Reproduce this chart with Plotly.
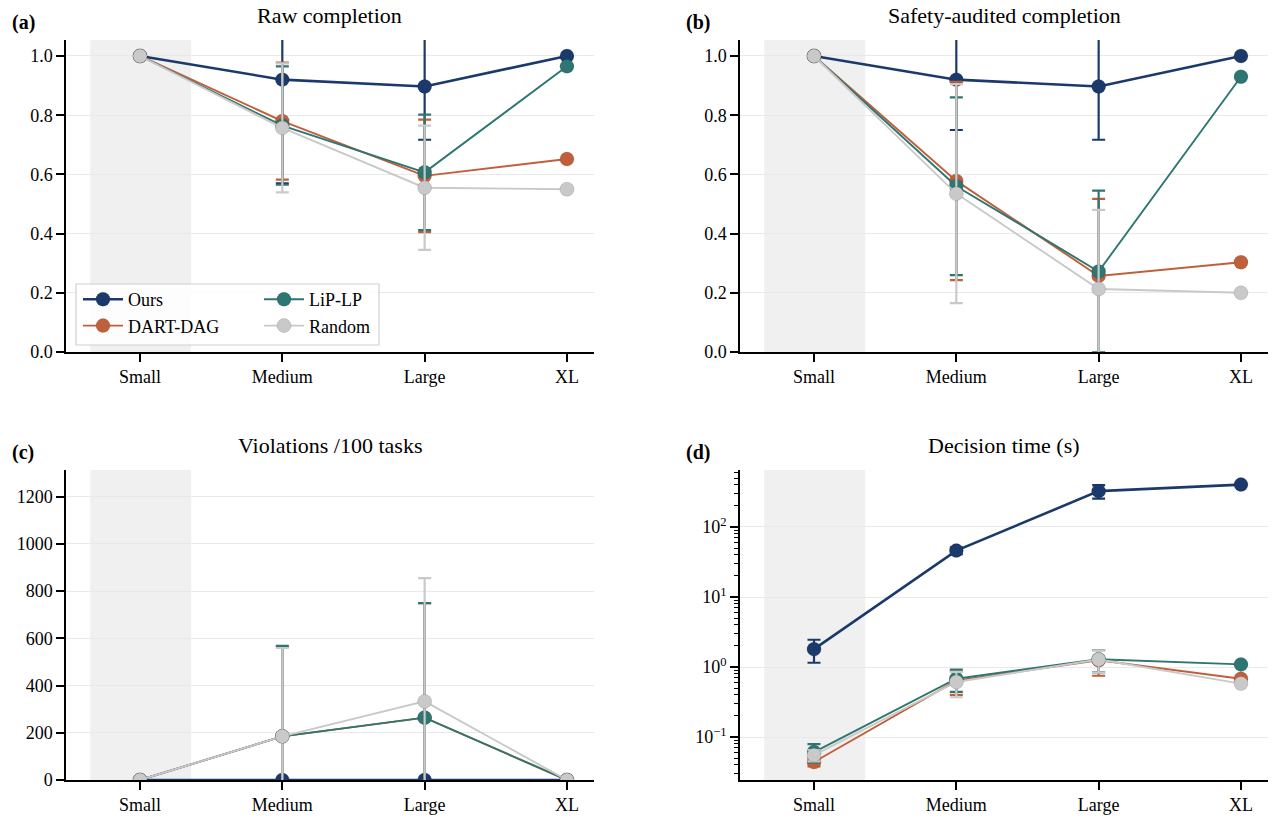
import plotly.graph_objects as go
from plotly.subplots import make_subplots

# data
sizes = ["Small", "Medium", "Large", "XL"]
methods = ["Ours", "DART-DAG", "LiP-LP", "Random"]
colors = {"Ours": "#1b3a6b", "DART-DAG": "#c0603a", "LiP-LP": "#2d7671", "Random": "#c9c9c9"}
widths = {"Ours": 2.6, "DART-DAG": 1.9, "LiP-LP": 1.9, "Random": 1.9}

raw_mean = {
    "Ours": [1.0, 0.92, 0.897, 1.0],
    "DART-DAG": [1.0, 0.78, 0.595, 0.652],
    "LiP-LP": [1.0, 0.765, 0.607, 0.965],
    "Random": [1.0, 0.757, 0.555, 0.55],
}
raw_std = {
    "Ours": [0.0, 0.35, 0.18, 0.0],
    "DART-DAG": [0.0, 0.198, 0.19, 0.0],
    "LiP-LP": [0.0, 0.2, 0.195, 0.0],
    "Random": [0.0, 0.218, 0.21, 0.0],
}

safe_mean = {
    "Ours": [1.0, 0.92, 0.897, 1.0],
    "DART-DAG": [1.0, 0.578, 0.257, 0.303],
    "LiP-LP": [1.0, 0.56, 0.272, 0.93],
    "Random": [1.0, 0.535, 0.213, 0.2],
}
safe_std = {
    "Ours": [0.0, 0.17, 0.18, 0.0],
    "DART-DAG": [0.0, 0.335, 0.26, 0.0],
    "LiP-LP": [0.0, 0.3, 0.273, 0.0],
    "Random": [0.0, 0.37, 0.267, 0.0],
}

viol_mean = {
    "Ours": [0.0, 0.0, 0.0, 0.0],
    "DART-DAG": [0.0, 185.0, 264.0, 0.0],
    "LiP-LP": [0.0, 185.0, 264.0, 0.0],
    "Random": [0.0, 185.0, 333.0, 0.0],
}
viol_std = {
    "Ours": [0.0, 0.0, 0.0, 0.0],
    "DART-DAG": [0.0, 380.0, 485.0, 0.0],
    "LiP-LP": [0.0, 383.0, 485.0, 0.0],
    "Random": [0.0, 374.0, 522.0, 0.0],
}

time_mean = {
    "Ours": [1.8, 46.0, 325.0, 403.0],
    "DART-DAG": [0.044, 0.64, 1.25, 0.68],
    "LiP-LP": [0.061, 0.68, 1.29, 1.09],
    "Random": [0.055, 0.61, 1.28, 0.58],
}
time_std = {
    "Ours": [0.65, 5.0, 70.0, 0.0],
    "DART-DAG": [0.006, 0.24, 0.5, 0.0],
    "LiP-LP": [0.018, 0.24, 0.45, 0.0],
    "Random": [0.01, 0.24, 0.45, 0.0],
}

titles = ["Raw completion", "Safety-audited completion", "Violations /100 tasks", "Decision time (s)"]
panel_labels = ["(a)", "(b)", "(c)", "(d)"]

fig = make_subplots(rows=2, cols=2)

panels = [(raw_mean, raw_std, 1, 1), (safe_mean, safe_std, 1, 2),
          (viol_mean, viol_std, 2, 1), (time_mean, time_std, 2, 2)]

for k, (means, stds, r, c) in enumerate(panels):
    for m in methods:
        fig.add_trace(go.Scatter(
            x=sizes, y=means[m], mode="lines+markers", name=m,
            legend="legend" if m in ("Ours", "DART-DAG") else "legend2",
            showlegend=(k == 0),
            line=dict(color=colors[m], width=widths[m]),
            marker=dict(size=14, color=colors[m], line=dict(width=0.8, color="rgba(0,0,0,0.15)")),
            error_y=dict(type="data", array=stds[m], visible=True, color=colors[m],
                         thickness=2.2, width=6.5),
        ), row=r, col=c)

# axes domains in paper units (pixels of the 1274x828 page)
W, H = 1274, 828
doms = {
    (1, 1): ((66, 594), (40, 352)),
    (1, 2): ((740, 1268), (40, 352)),
    (2, 1): ((66, 594), (470, 780)),
    (2, 2): ((740, 1268), (470, 780)),
}
axis_font = dict(family="Liberation Serif", size=18, color="black")

for i, ((r, c), ((x0, x1), (yt, yb))) in enumerate(doms.items()):
    n = i + 1
    xa = "xaxis" if n == 1 else f"xaxis{n}"
    ya = "yaxis" if n == 1 else f"yaxis{n}"
    fig.layout[xa].update(domain=[x0 / W, x1 / W], range=[-0.52, 3.19], automargin=False,
                          showline=True, linecolor="black", linewidth=1.5,
                          ticks="outside", ticklen=8, tickwidth=1.5, tickcolor="black",
                          showgrid=False, zeroline=False, tickfont=axis_font)
    fig.layout[ya].update(domain=[1 - yb / H, 1 - yt / H], automargin=False,
                          showline=True, linecolor="black", linewidth=1.5,
                          ticks="outside", ticklen=8, tickwidth=1.5, tickcolor="black",
                          showgrid=True, gridcolor="#e9e9e9", gridwidth=1,
                          zeroline=False, tickfont=axis_font)
    xref = "x" if n == 1 else f"x{n}"
    yref = "y domain" if n == 1 else f"y{n} domain"
    fig.add_shape(type="rect", xref=xref, yref=yref, x0=-0.35, x1=0.36, y0=0, y1=1,
                  fillcolor="#f0f0f0", line=dict(width=0), layer="below")
    # subplot title and panel label
    fig.add_annotation(text=titles[i], xref="paper", yref="paper",
                       x=(x0 + x1) / 2 / W, y=1 - (yt - 24) / H,
                       xanchor="center", yanchor="middle",
                       showarrow=False, font=dict(family="Liberation Serif", size=22, color="black"))
    fig.add_annotation(text="<b>" + panel_labels[i] + "</b>", xref="paper", yref="paper",
                       x=(10 if c == 1 else 684) / W, y=1 - (yt - 18) / H,
                       xanchor="left", yanchor="middle", showarrow=False,
                       font=dict(family="Liberation Serif", size=20, color="black"))

log_minor = [m * 10.0 ** e for e in range(-2, 3) for m in range(2, 10)]

fig.update_layout(
    yaxis=dict(range=[0, 1.054], tickvals=[0, 0.2, 0.4, 0.6, 0.8, 1.0], tickformat=".1f"),
    yaxis2=dict(range=[0, 1.054], tickvals=[0, 0.2, 0.4, 0.6, 0.8, 1.0], tickformat=".1f"),
    yaxis3=dict(range=[0, 1313], tickvals=[0, 200, 400, 600, 800, 1000, 1200]),
    yaxis4=dict(type="log", range=[-1.614, 2.814],
                tickvals=[0.1, 1, 10, 100],
                ticktext=["10<sup>\u22121</sup>", "10<sup>0</sup>", "10<sup>1</sup>", "10<sup>2</sup>"],
                minor=dict(tickvals=log_minor, ticks="outside", ticklen=4, tickwidth=1,
                           tickcolor="black", showgrid=False)),
)

# two-column legend inside panel (a), with one shared frame
fig.add_shape(type="rect", xref="paper", yref="paper",
              x0=76 / W, x1=379 / W, y0=1 - 345 / H, y1=1 - 284 / H,
              line=dict(color="#d0d0d0", width=1.2), fillcolor="rgba(255,255,255,0.85)", layer="above")
legend_common = dict(bgcolor="rgba(0,0,0,0)", borderwidth=0, tracegroupgap=0,
                     font=dict(family="Liberation Serif", size=18, color="black"),
                     itemwidth=40, xanchor="left", yanchor="top", yref="paper")
fig.update_layout(
    legend=dict(x=78 / W, y=1 - 281 / H, **legend_common),
    legend2=dict(x=259 / W, y=1 - 281 / H, **legend_common),
)

fig.update_layout(
    width=W, height=H, margin=dict(l=0, r=0, t=0, b=0),
    plot_bgcolor="white", paper_bgcolor="white",
    font=dict(family="Liberation Serif", color="black"),
)

fig.write_html("out.html", config={"displayModeBar": False},
               post_script="document.body.style.margin='0px';")
